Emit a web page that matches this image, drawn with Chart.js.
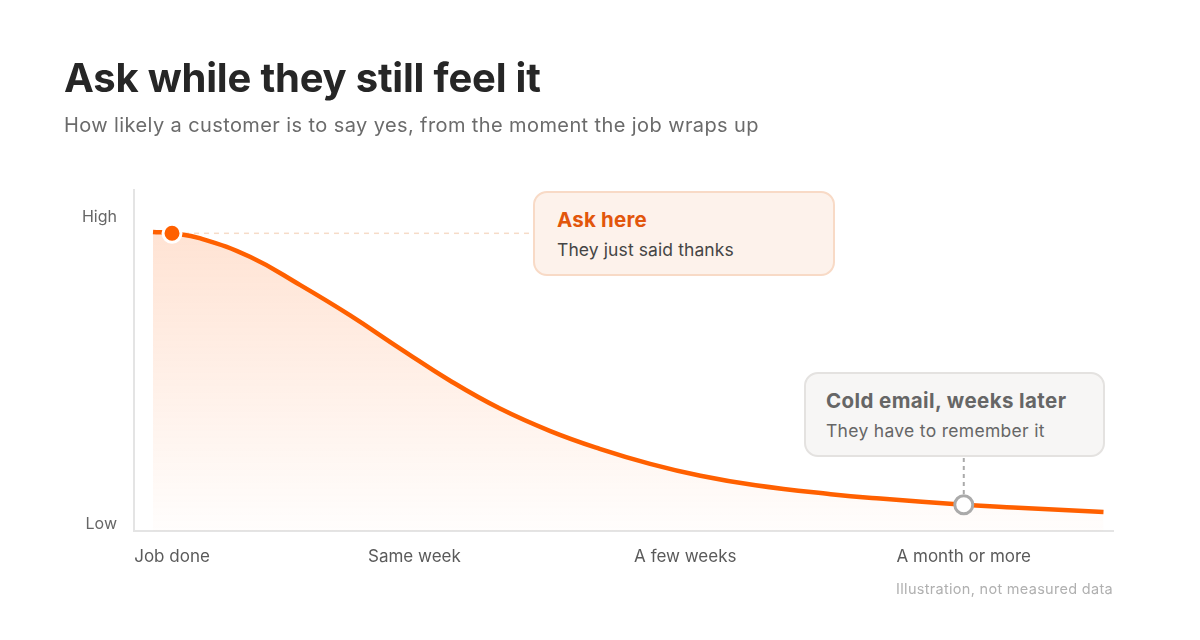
<!DOCTYPE html>
<html>
<head>
<meta charset="utf-8">
<script src="https://cdn.jsdelivr.net/npm/chart.js@4/dist/chart.umd.min.js"></script>
<style>
  html, body { margin: 0; padding: 0; background: #fff; }
  body { width: 1200px; height: 640px; position: relative; overflow: hidden; font-family: Inter, 'Noto Sans', sans-serif; }
  #chart { position: absolute; left: 0; top: 0; }
  h1 { position: absolute; left: 64px; top: 52px; margin: 0; font-size: 40px; font-weight: 700; color: #262626; letter-spacing: -0.2px; line-height: 52px; }
  .sub { position: absolute; left: 64px; top: 112px; font-size: 20px; color: #6b6b6b; letter-spacing: 0.4px; line-height: 26px; }
  .note { position: absolute; right: 87px; top: 579px; font-size: 14.5px; color: #b0b0b0; letter-spacing: 0.3px; line-height: 20px; }
  .box { position: absolute; box-sizing: border-box; border-radius: 14px; padding: 14px 20px 14px 22px; }
  .box b { display: block; font-size: 20.5px; line-height: 26px; font-weight: 700; letter-spacing: 0.2px; white-space: nowrap; }
  .box span { display: block; margin-top: 6px; font-size: 17.5px; line-height: 22px; letter-spacing: 0.1px; white-space: nowrap; }
  #ask { left: 533px; top: 191px; width: 302px; height: 85px; background: #fdf2eb; border: 2px solid #f8dac6; }
  #ask b { color: #e2560c; }
  #ask span { color: #454545; }
  #cold { left: 804px; top: 372px; width: 301px; height: 85px; background: #f7f6f5; border: 2px solid #e4e2e0; padding-left: 20px; }
  #cold b { color: #666; letter-spacing: 0.4px; }
  #cold span { color: #666; letter-spacing: 0.3px; }
</style>
</head>
<body>
<canvas id="chart" width="1200" height="640"></canvas>
<h1>Ask while they still feel it</h1>
<div class="sub">How likely a customer is to say yes, from the moment the job wraps up</div>
<div class="box" id="ask"><b>Ask here</b><span>They just said thanks</span></div>
<div class="box" id="cold"><b>Cold email, weeks later</b><span>They have to remember it</span></div>
<div class="note">Illustration, not measured data</div>
<script>
"use strict";

/* moments on the x axis */
var timeLabels = ['Job done', 'Same week', 'A few weeks', 'A month or more'];
var timeTicks  = [2, 27.5, 56, 85.3];

/* y axis levels */
var levelLabels = ['Low', 'High'];
var levelTicks  = [2, 92];

/* the curve (0..100 in both directions) */
var curveX = [0, 2, 5, 10.2, 15.5, 20.7, 26, 31.3, 36.5, 41.8, 47, 52.3, 57.6, 63.4, 71.3, 76.5, 85.3, 90.5, 100];
var curveY = [87.7, 87.3, 85.8, 80.4, 72.1, 63.3, 53.5, 44.0, 35.9, 29.3, 24.1, 19.7, 16.2, 13.4, 10.8, 9.5, 7.7, 6.9, 5.6];

/* highlighted moments: index into the curve */
var askIdx  = 1;
var coldIdx = 16;

var ORANGE = '#ff6000';

var points = curveX.map(function (x, i) { return { x: x, y: curveY[i] }; });

var radius  = curveX.map(function (x, i) { return (i === askIdx || i === coldIdx) ? 9 : 0; });
var fillCol = curveX.map(function (x, i) { return i === coldIdx ? '#ffffff' : ORANGE; });
var edgeCol = curveX.map(function (x, i) { return i === coldIdx ? '#aaaaaa' : '#ffffff'; });

/* dashed connectors from the marked points to the call-out boxes */
var connectors = {
  id: 'connectors',
  beforeDatasetsDraw: function (chart) {
    var ctx = chart.ctx;
    var xs = chart.scales.x, ys = chart.scales.y;
    var ax = xs.getPixelForValue(curveX[askIdx]), ay = ys.getPixelForValue(curveY[askIdx]);
    var cx = xs.getPixelForValue(curveX[coldIdx]), cy = ys.getPixelForValue(curveY[coldIdx]);
    ctx.save();
    ctx.setLineDash([5, 5]);
    ctx.lineWidth = 1.5;
    ctx.strokeStyle = '#f6dcc8';
    ctx.beginPath();
    ctx.moveTo(ax + 12, ay);
    ctx.lineTo(533, ay);
    ctx.stroke();
    ctx.setLineDash([4, 4]);
    ctx.lineWidth = 2;
    ctx.strokeStyle = '#aaaaaa';
    ctx.beginPath();
    ctx.moveTo(cx, 458);
    ctx.lineTo(cx, cy - 10);
    ctx.stroke();
    ctx.restore();
  }
};

new Chart(document.getElementById('chart'), {
  type: 'line',
  data: {
    datasets: [{
      data: points,
      borderColor: ORANGE,
      borderWidth: 4.5,
      tension: 0.45,
      fill: 'origin',
      backgroundColor: function (c) {
        var a = c.chart.chartArea;
        if (!a) return 'rgba(255,96,0,0.15)';
        var g = c.chart.ctx.createLinearGradient(0, a.top, 0, a.bottom);
        g.addColorStop(0, 'rgba(255,110,30,0.22)');
        g.addColorStop(1, 'rgba(255,110,30,0.01)');
        return g;
      },
      pointRadius: radius,
      pointHoverRadius: radius,
      pointBackgroundColor: fillCol,
      pointBorderColor: edgeCol,
      pointBorderWidth: 3
    }]
  },
  options: {
    responsive: false,
    animation: false,
    layout: { padding: { left: 64, right: 87, top: 190, bottom: 69 } },
    plugins: {
      legend: { display: false },
      tooltip: { enabled: false }
    },
    scales: {
      x: {
        type: 'linear',
        min: -2,
        max: 101,
        afterFit: function (s) { s.height = 40; },
        afterBuildTicks: function (s) {
          s.ticks = timeTicks.map(function (v) { return { value: v }; });
        },
        ticks: {
          padding: 16,
          color: '#5a5a5a',
          font: { family: 'Inter', size: 17 },
          callback: function (v) { return timeLabels[timeTicks.indexOf(v)]; }
        },
        grid: { display: false, drawTicks: false },
        border: { color: '#e4e4e4', width: 2 }
      },
      y: {
        min: 0,
        max: 100,
        afterFit: function (s) { s.width = 70; },
        afterBuildTicks: function (s) {
          s.ticks = levelTicks.map(function (v) { return { value: v }; });
        },
        ticks: {
          padding: 17,
          color: '#666',
          font: { family: 'Inter', size: 16 },
          callback: function (v) { return levelLabels[levelTicks.indexOf(v)]; }
        },
        grid: { display: false, drawTicks: false },
        border: { color: '#e4e4e4', width: 2 }
      }
    }
  },
  plugins: [connectors]
});
</script>
</body>
</html>
